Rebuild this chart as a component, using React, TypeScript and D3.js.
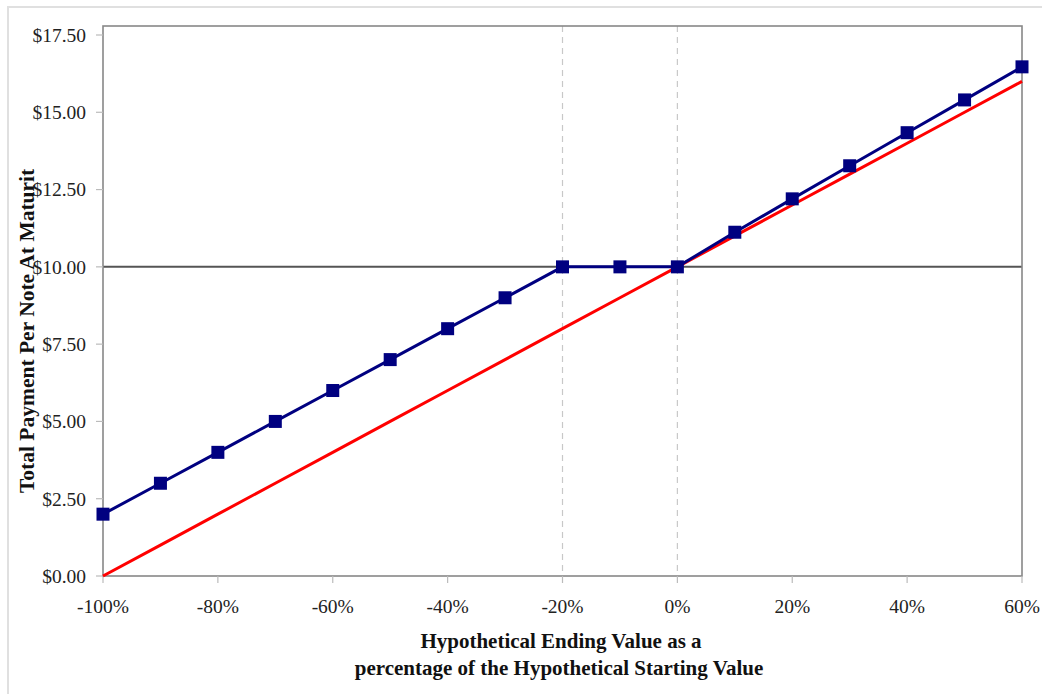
import React from "react";
import * as d3 from "d3";

const xValues = [-100, -90, -80, -70, -60, -50, -40, -30, -20, -10, 0, 10, 20, 30, 40, 50, 60];
const notePayment = [2, 3, 4, 5, 6, 7, 8, 9, 10, 10, 10, 11.12, 12.2, 13.27, 14.34, 15.4, 16.47];
const underlyingPayment = [0, 1, 2, 3, 4, 5, 6, 7, 8, 9, 10, 11, 12, 13, 14, 15, 16];
const yTicks = [0, 2.5, 5, 7.5, 10, 12.5, 15, 17.5];
const xTicks = [-100, -80, -60, -40, -20, 0, 20, 40, 60];
const dashedX = [-20, 0];
const thresholdY = 10;

const W = 1042;
const H = 694;
const L = 103;
const R = 1022;
const T = 26;
const B = 576;

export default function App() {
  const x = d3.scaleLinear().domain([-100, 60]).range([L, R]);
  const y = d3.scaleLinear().domain([0, 17.5]).range([B, 35]);
  const line = d3
    .line<[number, number]>()
    .x((d) => x(d[0]))
    .y((d) => y(d[1]));
  const blue = xValues.map((v, i) => [v, notePayment[i]] as [number, number]);
  const red = xValues.map((v, i) => [v, underlyingPayment[i]] as [number, number]);
  const font = "'Liberation Serif', 'Times New Roman', serif";
  const fmt = (v: number) => "$" + v.toFixed(2);

  return (
    <svg
      width={W}
      height={H}
      style={{ position: "absolute", left: 0, top: 0, background: "#fff" }}
      fontFamily={font}
    >
      <rect x={8} y={7} width={1200} height={900} fill="none" stroke="#e0e0e0" strokeWidth={2} />
      {dashedX.map((d) => (
        <line key={d} x1={x(d)} x2={x(d)} y1={T} y2={B} stroke="#c8c8c8" strokeWidth={1.2} strokeDasharray="6,5" />
      ))}
      <line x1={L} x2={R} y1={y(thresholdY)} y2={y(thresholdY)} stroke="#555" strokeWidth={2} />
      <rect x={L} y={T} width={R - L} height={B - T} fill="none" stroke="#888" strokeWidth={1.6} />
      {yTicks.map((t) => (
        <g key={t}>
          <line x1={L - 7} x2={L} y1={y(t)} y2={y(t)} stroke="#bbb" strokeWidth={1.2} />
          <text x={86} y={y(t)} dy="0.35em" textAnchor="end" fontSize={19.5} fill="#222">
            {fmt(t)}
          </text>
        </g>
      ))}
      {xTicks.map((t) => (
        <g key={t}>
          <line x1={x(t)} x2={x(t)} y1={B} y2={B + 7} stroke="#bbb" strokeWidth={1.2} />
          <text x={x(t)} y={613} textAnchor="middle" fontSize={19.5} fill="#222">
            {t + "%"}
          </text>
        </g>
      ))}
      <path d={line(red) || ""} fill="none" stroke="#ff0000" strokeWidth={3} />
      <path d={line(blue) || ""} fill="none" stroke="#000080" strokeWidth={3} />
      {blue.map((d, i) => (
        <rect key={i} x={x(d[0]) - 6.5} y={y(d[1]) - 6.5} width={13} height={13} fill="#000080" />
      ))}
      <text x={561} y={648} textAnchor="middle" fontSize={21} fontWeight="bold" fill="#111">
        Hypothetical Ending Value as a
      </text>
      <text x={559} y={675} textAnchor="middle" fontSize={21} fontWeight="bold" fill="#111">
        percentage of the Hypothetical Starting Value
      </text>
      <text
        transform="translate(34,493) rotate(-90)"
        textAnchor="start"
        fontSize={21.5}
        fontWeight="bold"
        fill="#111"
      >
        Total Payment Per Note At Maturit
      </text>
    </svg>
  );
}
